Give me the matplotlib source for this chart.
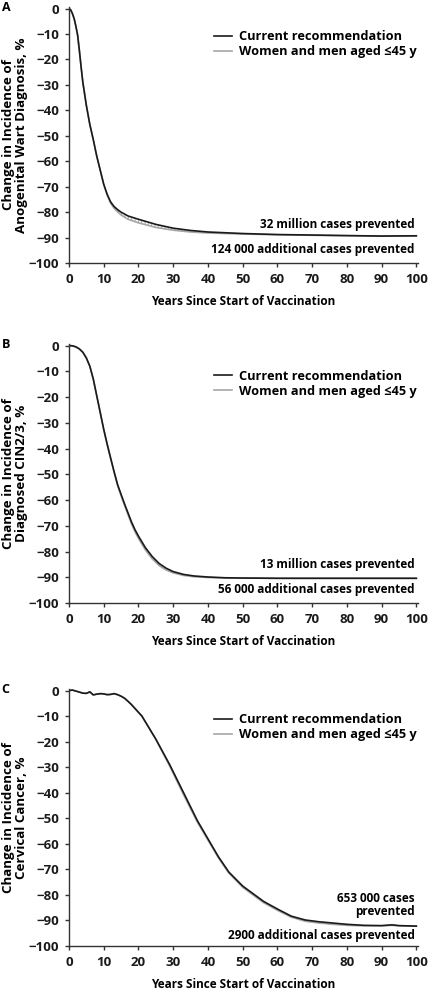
import matplotlib.pyplot as plt
import numpy as np

plt.rcParams['font.family'] = ['Open Sans', 'DejaVu Sans']
plt.rcParams['hatch.linewidth'] = 0.6

# --- data ---
years_a = [0, 0.5, 1, 1.5, 2, 2.5, 3, 3.5, 4, 5, 6, 7, 8, 9, 10, 11, 12, 13, 14, 15, 17,
           20, 25, 30, 35, 40, 50, 60, 70, 80, 90, 100]
warts_current = [0, -0.5, -2, -4, -7, -10.5, -16.5, -23, -29, -38, -45.5, -51.5, -58,
                 -63.5, -69, -73, -76, -77.8, -79, -80, -81.5, -82.8, -84.8, -86.3, -87.2,
                 -87.8, -88.4, -88.8, -89.0, -89.2, -89.4, -89.3]
warts_45y = [0, -0.5, -2, -4, -7, -10.5, -16.5, -23, -29, -38, -45.5, -51.5, -58, -63.5,
             -69.1, -73.3, -76.5, -78.5, -79.9, -81.1, -82.8, -84.2, -86.0, -87.1, -87.8,
             -88.2, -88.6, -88.9, -89.1, -89.3, -89.4, -89.3]

years_b = [0, 1, 2, 3, 4, 5, 6, 7, 8, 9, 10, 11, 12, 13, 14, 15, 16, 17, 18, 19, 20, 22,
           24, 26, 28, 30, 33, 36, 40, 45, 50, 60, 100]
cin_current = [0, -0.1, -0.5, -1.3, -2.6, -4.8, -8, -13, -19.5, -26, -32.5, -38.3, -43.7,
               -49, -54, -57.8, -61.5, -65, -68.5, -71.5, -74, -78.5, -82, -84.7, -86.5,
               -87.8, -88.9, -89.5, -89.9, -90.2, -90.3, -90.4, -90.4]
cin_45y = [0, -0.1, -0.5, -1.3, -2.6, -4.8, -8, -13, -19.5, -26, -32.5, -38.4, -43.9,
           -49.3, -54.4, -58.3, -62.1, -65.7, -69.3, -72.3, -74.9, -79.4, -82.9, -85.5,
           -87.2, -88.3, -89.3, -89.8, -90.1, -90.3, -90.3, -90.4, -90.4]

years_c = [0, 1, 2, 3, 4, 5, 6, 7, 8, 9, 10, 11, 12, 13, 14, 15, 16, 17, 18, 19, 20, 21,
           23, 25, 27, 29, 31, 33, 35, 37, 40, 43, 46, 50, 53, 56, 60, 64, 68, 72, 76,
           80, 85, 90, 93, 95, 100]
cancer_current = [0, 0.2, -0.2, -0.6, -1, -1.1, -0.5, -1.7, -1.4, -1.2, -1.3, -1.6, -1.5,
                  -1.2, -1.6, -2.2, -3, -4.2, -5.5, -7, -8.5, -10, -14.5, -19, -24, -29,
                  -34.5, -40, -45.5, -51, -58, -65, -71, -76.5, -79.5, -82.5, -85.5,
                  -88.3, -89.8, -90.5, -91, -91.5, -91.9, -92, -91.7, -92, -92.2]
cancer_45y = [0, 0.2, -0.2, -0.6, -1, -1.1, -0.5, -1.7, -1.4, -1.2, -1.3, -1.6, -1.5,
              -1.2, -1.6, -2.2, -3, -4.2, -5.5, -7, -8.5, -10, -14.5, -19, -24.3, -29.6,
              -35.2, -40.8, -46.2, -51.6, -58.5, -65.4, -71.4, -77, -80, -83, -86,
              -88.7, -90.3, -91, -91.5, -91.9, -92.1, -92.1, -91.9, -92.1, -92.2]

ylabels = ['Change in Incidence of\nAnogenital Wart Diagnosis, %',
           'Change in Incidence of\nDiagnosed CIN2/3, %',
           'Change in Incidence of\nCervical Cancer, %']
prevented = ['32 million cases prevented', '13 million cases prevented',
             '653 000 cases\nprevented']
additional = ['124 000 additional cases prevented', '56 000 additional cases prevented',
              '2900 additional cases prevented']
letters = ['A', 'B', 'C']

panels = [(years_a, warts_current, warts_45y),
          (years_b, cin_current, cin_45y),
          (years_c, cancer_current, cancer_45y)]

# axes boxes in figure fractions [left, bottom, width, height]
boxes = [[0.160, 0.7343, 0.810, 0.2586],
         [0.160, 0.3909, 0.810, 0.2616],
         [0.160, 0.0444, 0.810, 0.2596]]
prev_y = [-84.8, -85.0, -84.0]
add_y = [-94.5, -94.6, -95.7]
leg_top = [0.93, 0.92, 0.925]

fig = plt.figure(figsize=(4.31, 9.9), dpi=100)
fw = 'bold'

for i, (yrs, cur, alt) in enumerate(panels):
    ax = fig.add_axes(boxes[i])
    ax.fill_between(yrs, cur, alt, facecolor='none', edgecolor='#9a9a9a',
                    hatch='|||||', linewidth=0)
    ax.plot(yrs, alt, color='#a6a6a6', lw=1.2, label='Women and men aged \u226445 y')
    ax.plot(yrs, cur, color='#1a1a1a', lw=1.2, label='Current recommendation')

    ax.set_xlim(0, 100.5)
    ax.set_ylim(-100, 0.6)
    ax.set_xticks(np.arange(0, 101, 10))
    ax.set_yticks(np.arange(-100, 1, 10))
    ax.set_yticklabels([str(v).replace('-', '\u2212') for v in range(-100, 1, 10)])
    for s in ['top', 'right']:
        ax.spines[s].set_visible(False)
    for s in ['left', 'bottom']:
        ax.spines[s].set_linewidth(1.0)
        ax.spines[s].set_color('#333333')
    ax.tick_params(direction='out', length=3, width=1.0, colors='#333333',
                   labelcolor='#1a1a1a', labelsize=9.5, pad=4)
    for lab in ax.get_xticklabels() + ax.get_yticklabels():
        lab.set_fontweight(fw)

    ax.set_xlabel('Years Since Start of Vaccination', fontsize=8.5, fontweight=fw,
                  labelpad=7)
    ax.set_ylabel(ylabels[i], fontsize=9.6, fontweight=fw, linespacing=1.0)
    ax.yaxis.set_label_coords(-0.118, 0.5)

    handles = [ax.lines[1], ax.lines[0]]
    ax.legend(handles, [h.get_label() for h in handles], loc='upper left',
              bbox_to_anchor=(0.40, leg_top[i]),
              frameon=False, handlelength=1.4, handletextpad=0.6,
              labelspacing=0.15, borderaxespad=0,
              prop={'weight': fw, 'size': 9.2})

    ax.text(99.5, prev_y[i], prevented[i], ha='right', va='center', fontsize=8.5,
            fontweight=fw, linespacing=1.0)
    ax.text(99.5, add_y[i], additional[i], ha='right', va='center', fontsize=8.5,
            fontweight=fw)

    ax.text(-0.193, 1.0, letters[i], transform=ax.transAxes, fontsize=9,
            fontweight='bold', ha='left', va='center')

fig.savefig('out.png', dpi=100)
